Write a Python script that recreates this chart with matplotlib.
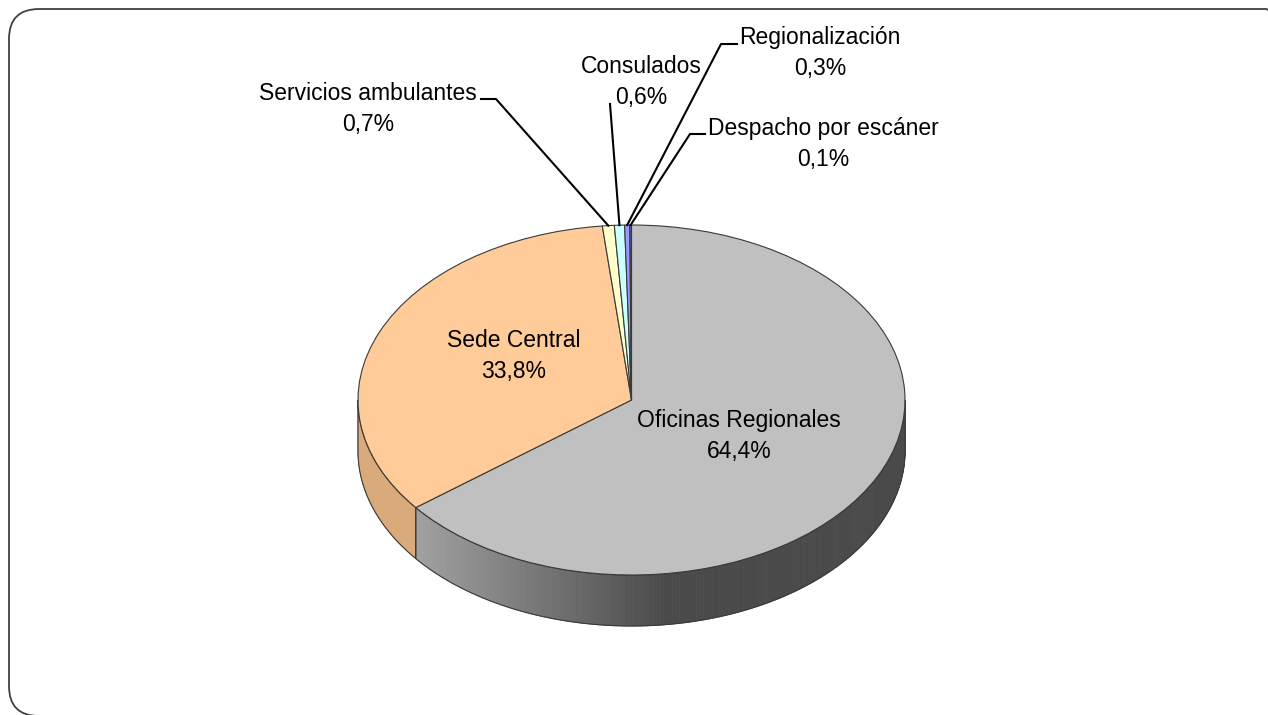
import numpy as np
import matplotlib.pyplot as plt
from matplotlib.patches import Polygon, FancyBboxPatch
from matplotlib.colors import to_rgb

# data
labels = ["Oficinas Regionales", "Sede Central", "Servicios ambulantes",
          "Consulados", "Regionalización", "Despacho por escáner"]
values = [64.4, 33.8, 0.7, 0.6, 0.3, 0.1]
top_colors = ["#C0C0C0", "#FFCC99", "#FFFFCC", "#CCFFFF", "#9999FF", "#5555BB"]
side_colors = [("#a0a0a0", "#4a4a4a"), ("#d9aa7a", "#cf9f6f"), ("#e0e0b0", "#e0e0b0"),
               ("#b0e0e0", "#b0e0e0"), ("#7777dd", "#7777dd"), ("#333399", "#333399")]

W, H = 1268, 715
cx, cy, rx, ry = 631.5, 400, 273.5, 175
depth = 51 / ry

def px(x, y):
    # pixel (from top-left) -> data coords
    return ((x - cx) / rx, (cy - y) / ry)

# label positions (pixel), elbow + line end for outside labels
label_pos = [(739, 436), (514, 356), (368, 109), (641, 82), (820, 53), (823, 144)]
leaders = {2: [(496, 99), (481, 99)],
           3: [(610, 104)],
           4: [(721, 44), (737, 44)],
           5: [(690, 134), (705, 134)]}

plt.rcParams['font.family'] = ['Liberation Sans', 'DejaVu Sans']

fig = plt.figure(figsize=(W / 100, H / 100), dpi=100)
ax = fig.add_axes([0, 0, 1, 1])

wedges, _ = ax.pie(values, colors=top_colors, startangle=90, counterclock=False,
                   wedgeprops=dict(edgecolor="#3a3a3a", linewidth=0.8, zorder=5))
ax.set_aspect('auto')
ax.set_xlim(-cx / rx, (W - cx) / rx)
ax.set_ylim((cy - H) / ry, cy / ry)
ax.axis('off')

# 3d side walls for the front half
for w, (c0, c1) in zip(wedges, side_colors):
    for lo, hi in [(-180, 0), (180, 360), (-540, -360)]:
        a, b = max(w.theta1, lo), min(w.theta2, hi)
        if b <= a:
            continue
        t = np.radians(np.linspace(a, b, max(int((b - a) * 2), 2)))
        xs, ys = np.cos(t), np.sin(t)
        for i in range(len(t) - 1):
            f = np.clip((xs[i] + 0.78) / 0.9, 0, 1)
            col = (1 - f) * np.array(to_rgb(c0)) + f * np.array(to_rgb(c1))
            pts = [(xs[i], ys[i]), (xs[i + 1], ys[i + 1]),
                   (xs[i + 1], ys[i + 1] - depth), (xs[i], ys[i] - depth)]
            ax.add_patch(Polygon(pts, closed=True, facecolor=col, edgecolor=col,
                                 linewidth=0.6, zorder=2))
        outline = list(zip(xs, ys)) + list(zip(xs[::-1], ys[::-1] - depth))
        ax.add_patch(Polygon(outline, closed=True, fill=False, edgecolor="#3a3a3a",
                             linewidth=0.8, zorder=3))

# labels
for i, (w, name, v) in enumerate(zip(wedges, labels, values)):
    pct = f"{v:.1f}".replace('.', ',') + "%"
    lx, ly = px(*label_pos[i])
    ax.text(lx, ly, f"{name}\n{pct}", ha='center', va='center', fontsize=16.5,
            color='black', linespacing=1.45, zorder=10)
    if i in leaders:
        m = np.radians((w.theta1 + w.theta2) / 2)
        pts = [(np.cos(m), np.sin(m))] + [px(*p) for p in leaders[i]]
        ax.plot([p[0] for p in pts], [p[1] for p in pts], color='black', lw=1.5, zorder=9)

# rounded frame (in inches so the corners stay round)
frame = FancyBboxPatch((0.09, -0.01), 12.87, 7.07,
                       boxstyle="round,pad=0,rounding_size=0.3",
                       transform=fig.dpi_scale_trans, fill=False,
                       edgecolor="#404040", linewidth=1.3)
fig.patches.append(frame)

fig.savefig("out.png", dpi=100)
